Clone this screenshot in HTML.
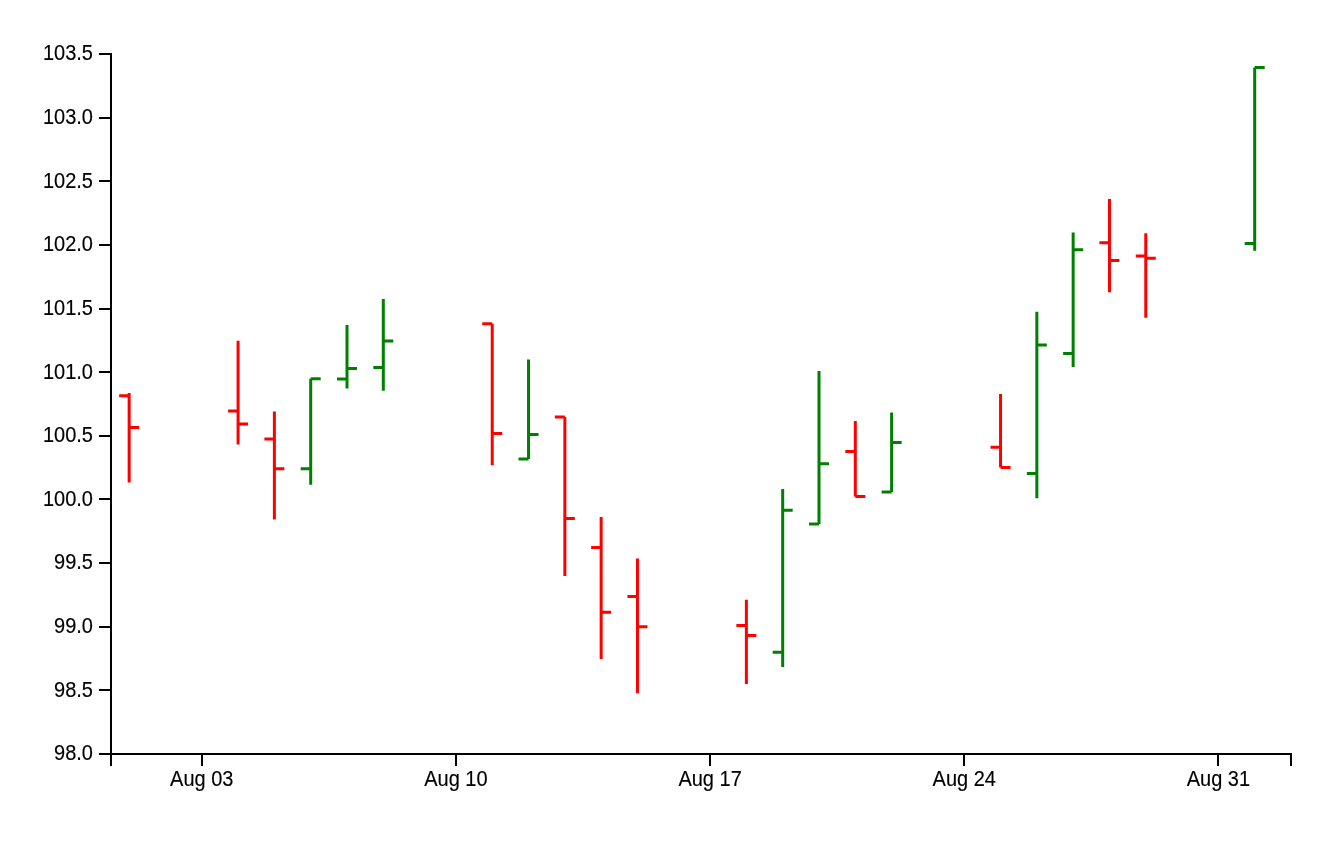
<!DOCTYPE html>
<html lang="en">
<head>
<meta charset="utf-8">
<title>OHLC Chart</title>
<style>
html,body{margin:0;padding:0;background:#fff;}
body{width:1339px;height:843px;overflow:hidden;}
svg{display:block;position:absolute;left:0;top:0;}
.axis path,.axis line{fill:none;stroke:#000;stroke-width:2;shape-rendering:crispEdges;}
.axis text{font-family:"Liberation Sans",Arial,Helvetica,sans-serif;font-size:20px;fill:#000;stroke:#000;stroke-width:0.15;}
.ohlc path{fill:none;stroke-width:3;}
.ohlc path.down{stroke:#ff0000;}
.ohlc path.up{stroke:#008000;}
</style>
</head>
<body>
<svg width="1339" height="843" viewBox="0 0 1339 843">
<rect width="1339" height="843" fill="#ffffff"/>
<g class="ohlc">
<path class="down" d="M119.15,395.8H129.15M129.15,393.0V482.5M129.15,427.6H139.15"/>
<path class="down" d="M228.08,411.1H238.08M238.08,340.7V444.5M238.08,424.1H248.08"/>
<path class="down" d="M264.38,439.0H274.38M274.38,411.4V519.6M274.38,468.8H284.38"/>
<path class="up" d="M300.69,468.8H310.69M310.69,378.7V484.8M310.69,378.7H320.69"/>
<path class="up" d="M337.00,379.0H347.00M347.00,324.9V388.6M347.00,368.5H357.00"/>
<path class="up" d="M373.31,367.4H383.31M383.31,299.0V390.8M383.31,341.1H393.31"/>
<path class="down" d="M482.23,323.8H492.23M492.23,323.8V465.2M492.23,433.4H502.23"/>
<path class="up" d="M518.54,458.9H528.54M528.54,359.5V458.9M528.54,434.6H538.54"/>
<path class="down" d="M554.85,417.1H564.85M564.85,417.1V575.9M564.85,518.4H574.85"/>
<path class="down" d="M591.15,547.4H601.15M601.15,517.1V659.0M601.15,612.3H611.15"/>
<path class="down" d="M627.46,596.5H637.46M637.46,558.4V693.2M637.46,626.7H647.46"/>
<path class="down" d="M736.38,625.6H746.38M746.38,599.7V683.9M746.38,635.5H756.38"/>
<path class="up" d="M772.69,652.2H782.69M782.69,489.1V666.9M782.69,510.2H792.69"/>
<path class="up" d="M809.00,524.0H819.00M819.00,370.9V524.0M819.00,463.8H829.00"/>
<path class="down" d="M845.31,451.4H855.31M855.31,421.1V496.6M855.31,496.6H865.31"/>
<path class="up" d="M881.62,492.1H891.62M891.62,412.4V492.1M891.62,442.6H901.62"/>
<path class="down" d="M990.54,447.2H1000.54M1000.54,394.0V467.4M1000.54,467.4H1010.54"/>
<path class="up" d="M1026.85,473.5H1036.85M1036.85,311.7V498.2M1036.85,345.1H1046.85"/>
<path class="up" d="M1063.15,353.5H1073.15M1073.15,232.6V367.1M1073.15,249.8H1083.15"/>
<path class="down" d="M1099.46,242.7H1109.46M1109.46,199.1V292.3M1109.46,260.5H1119.46"/>
<path class="down" d="M1135.77,256.1H1145.77M1145.77,233.2V317.8M1145.77,258.2H1155.77"/>
<path class="up" d="M1244.69,243.4H1254.69M1254.69,67.5V250.8M1254.69,67.5H1264.69"/>
</g>
<g class="axis x">
<path d="M111,766V754H1291V766"/>
<line x1="201.77" x2="201.77" y1="754" y2="766"/>
<text transform="translate(201.77,786.1) scale(1,1.06)" text-anchor="middle">Aug 03</text>
<line x1="455.92" x2="455.92" y1="754" y2="766"/>
<text transform="translate(455.92,786.1) scale(1,1.06)" text-anchor="middle">Aug 10</text>
<line x1="710.08" x2="710.08" y1="754" y2="766"/>
<text transform="translate(710.08,786.1) scale(1,1.06)" text-anchor="middle">Aug 17</text>
<line x1="964.23" x2="964.23" y1="754" y2="766"/>
<text transform="translate(964.23,786.1) scale(1,1.06)" text-anchor="middle">Aug 24</text>
<line x1="1218.38" x2="1218.38" y1="754" y2="766"/>
<text transform="translate(1218.38,786.1) scale(1,1.06)" text-anchor="middle">Aug 31</text>
</g>
<g class="axis y">
<path d="M99,54H111V754H99"/>
<line x1="99" x2="111" y1="754.00" y2="754.00"/>
<text transform="translate(93,760.40) scale(1,1.06)" text-anchor="end">98.0</text>
<line x1="99" x2="111" y1="690.36" y2="690.36"/>
<text transform="translate(93,696.76) scale(1,1.06)" text-anchor="end">98.5</text>
<line x1="99" x2="111" y1="626.73" y2="626.73"/>
<text transform="translate(93,633.13) scale(1,1.06)" text-anchor="end">99.0</text>
<line x1="99" x2="111" y1="563.09" y2="563.09"/>
<text transform="translate(93,569.49) scale(1,1.06)" text-anchor="end">99.5</text>
<line x1="99" x2="111" y1="499.45" y2="499.45"/>
<text transform="translate(93,505.85) scale(1,1.06)" text-anchor="end">100.0</text>
<line x1="99" x2="111" y1="435.82" y2="435.82"/>
<text transform="translate(93,442.22) scale(1,1.06)" text-anchor="end">100.5</text>
<line x1="99" x2="111" y1="372.18" y2="372.18"/>
<text transform="translate(93,378.58) scale(1,1.06)" text-anchor="end">101.0</text>
<line x1="99" x2="111" y1="308.55" y2="308.55"/>
<text transform="translate(93,314.95) scale(1,1.06)" text-anchor="end">101.5</text>
<line x1="99" x2="111" y1="244.91" y2="244.91"/>
<text transform="translate(93,251.31) scale(1,1.06)" text-anchor="end">102.0</text>
<line x1="99" x2="111" y1="181.27" y2="181.27"/>
<text transform="translate(93,187.67) scale(1,1.06)" text-anchor="end">102.5</text>
<line x1="99" x2="111" y1="117.64" y2="117.64"/>
<text transform="translate(93,124.04) scale(1,1.06)" text-anchor="end">103.0</text>
<line x1="99" x2="111" y1="54.00" y2="54.00"/>
<text transform="translate(93,60.40) scale(1,1.06)" text-anchor="end">103.5</text>
</g>
</svg>
</body>
</html>
